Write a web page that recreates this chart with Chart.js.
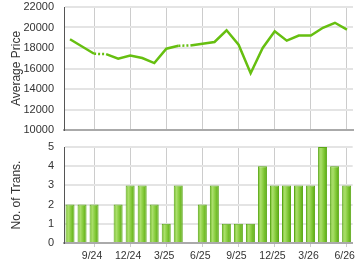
<!DOCTYPE html>
<html><head><meta charset="utf-8">
<script src="https://cdn.jsdelivr.net/npm/chart.js@4/dist/chart.umd.min.js"></script>
<style>
html,body{margin:0;padding:0;background:#fff;}
#wrap{position:relative;width:360px;height:270px;}
canvas{position:absolute;left:0;}
</style></head><body>
<div id="wrap">
<canvas id="top" width="360" height="140" style="top:0"></canvas>
<canvas id="bot" width="360" height="130" style="top:140px"></canvas>
</div>
<script>
const months = ['7/24','8/24','9/24','10/24','11/24','12/24','1/25','2/25','3/25','4/25','5/25','6/25','7/25','8/25','9/25','10/25','11/25','12/25','1/26','2/26','3/26','4/26','5/26','6/26'];
const avgPrice = [18850,18150,17440,17400,16950,17270,17020,16530,17930,18220,18250,18420,18590,19730,18320,15540,18000,19630,18720,19210,19210,19970,20460,19800];
const transactions = [2,2,2,0,2,3,3,2,1,3,0,2,3,1,1,1,4,3,3,3,3,5,4,3];
const tickLabels = ['9/24','12/24','3/25','6/25','9/25','12/25','3/26','6/26'];
const priceTicks = [10000,12000,14000,16000,18000,20000,22000];
const transTicks = [0,1,2,3,4,5];

const FONT = 'Liberation Sans, Arial, sans-serif';
Chart.defaults.font.family = FONT;
Chart.defaults.color = '#333';

function xScale(showLabels){
  return {
    type:'category', offset:true,
    grid:{offset:false, drawTicks:showLabels, tickLength:4,
      color:ctx=> (ctx.index!==undefined && tickLabels.includes(months[ctx.index])) ? '#cccccc' : 'rgba(0,0,0,0)',
      lineWidth:1},
    border:{color:'#aaaaaa', width:2},
    ticks:{display:showLabels, autoSkip:false, maxRotation:0, padding:3, labelOffset:-2, font:{size:10.5}, color:'#333',
      callback:(v,i)=> tickLabels.includes(months[i]) ? months[i] : ''},
    afterFit:s=>{ if(showLabels) s.height=27; }
  };
}
function yScale(min,max,title,ticksArr){
  return {
    min:min, max:max,
    afterBuildTicks:s=>{ s.ticks = ticksArr.map(v=>({value:v})); },
    grid:{drawTicks:true, tickLength:10, tickColor:'rgba(0,0,0,0)', color:'#e4e4e4', lineWidth:2},
    border:{color:'#555555', width:1},
    ticks:{padding:0, font:{size:11}, color:'#333', callback:v=>String(v)},
    title:{display:true, text:title, font:{size:12}, color:'#333', padding:{top:9,bottom:0}},
    afterFit:s=>{ s.width=64; }
  };
}

new Chart(document.getElementById('top'),{
  type:'line',
  data:{labels:months, datasets:[{
    data:avgPrice, borderColor:'#66bf10', borderWidth:2.5, pointRadius:0, tension:0,
    segment:{borderDash:ctx=> transactions[ctx.p1DataIndex]===0 ? [2,2] : undefined}
  }]},
  options:{responsive:false, animation:false, devicePixelRatio:1,
    layout:{padding:{top:7,bottom:10,left:0,right:7}},
    plugins:{legend:{display:false}, tooltip:{enabled:false}},
    scales:{x:xScale(false), y:yScale(10000,22000,'Average Price',priceTicks)}}
});

function barGradient(ctx){
  const chart = ctx.chart;
  const xs = chart.scales && chart.scales.x;
  if(!xs || !chart.chartArea || ctx.dataIndex===undefined) return '#8fcf45';
  const x = xs.getPixelForValue(ctx.dataIndex);
  const w = (xs.width / months.length) * 0.75;
  if(!isFinite(x) || !isFinite(w) || w<=0) return '#8fcf45';
  const g = chart.ctx.createLinearGradient(x - w/2, 0, x + w/2, 0);
  g.addColorStop(0,'#72bc24');
  g.addColorStop(0.3,'#abdf6c');
  g.addColorStop(0.55,'#8ccf44');
  g.addColorStop(1,'#56a80a');
  return g;
}

new Chart(document.getElementById('bot'),{
  type:'bar',
  data:{labels:months, datasets:[{
    data:transactions, backgroundColor:barGradient, borderColor:'#5aa816', borderWidth:1,
    barPercentage:0.75, categoryPercentage:1
  }]},
  options:{responsive:false, animation:false, devicePixelRatio:1,
    layout:{padding:{top:7,bottom:0,left:0,right:7}},
    plugins:{legend:{display:false}, tooltip:{enabled:false}},
    scales:{x:xScale(true), y:yScale(0,5,'No. of Trans.',transTicks)}}
});
</script>
</body></html>
